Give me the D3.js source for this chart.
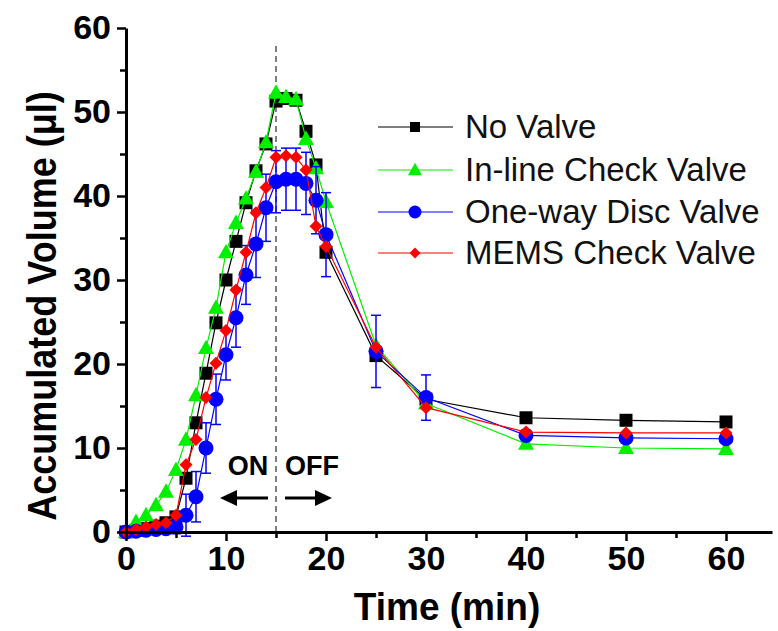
<!DOCTYPE html>
<html>
<head>
<meta charset="utf-8">
<script src="https://cdn.jsdelivr.net/npm/d3@7"></script>
<style>
  body { margin: 0; background: #fff; }
  svg { display: block; font-family: "Liberation Sans", Arial, sans-serif; }
</style>
</head>
<body>
<svg id="chart" width="778" height="631"></svg>
<script>
// Sampling times (min)
const times = [0, 1, 2, 3, 4, 5, 6, 7, 8, 9, 10, 11, 12, 13, 14, 15, 16, 17, 18, 19, 20, 25, 30, 40, 50, 60];

// Accumulated volume (µl) for each configuration
const noValve      = [0, 0.2, 0.4, 0.7, 1.1, 1.8, 6.4, 13.0, 18.9, 24.9, 30.0, 34.6, 39.2, 43.0, 46.2, 51.3, 51.6, 51.4, 47.7, 43.7, 33.3, 21.0, 15.8, 13.6, 13.3, 13.1];
const inlineCheck  = [0, 1.2, 2.0, 3.2, 4.8, 7.4, 11.0, 16.3, 21.9, 26.7, 33.3, 36.8, 39.7, 42.9, 46.4, 52.3, 51.8, 51.5, 46.8, 43.3, 39.3, 22.2, 15.3, 10.5, 10.0, 9.9];
const oneWayDisc   = [0, 0.1, 0.2, 0.3, 0.4, 0.6, 2.0, 4.2, 10.0, 15.8, 21.1, 25.5, 30.6, 34.3, 38.6, 41.7, 42.0, 42.0, 41.5, 39.5, 35.4, 21.5, 16.0, 11.5, 11.2, 11.1];
const memsCheck    = [0, 0.3, 0.6, 0.9, 1.1, 2.0, 8.0, 11.0, 16.0, 20.1, 24.0, 28.8, 33.3, 38.0, 41.0, 44.6, 44.8, 44.6, 43.1, 36.4, 34.0, 22.0, 14.8, 11.9, 11.8, 11.8];
// Standard deviation of the one-way disc valve runs
const oneWayDiscErr = [0.2, 0.2, 0.2, 0.2, 0.3, 0.8, 2.5, 3.0, 3.0, 3.0, 3.0, 3.5, 3.5, 4.0, 4.0, 3.7, 3.7, 3.7, 3.7, 4.0, 5.0, 4.3, 2.7, 0.6, 0.5, 0.5];

const seriesNames = ["No Valve", "In-line Check Valve", "One-way Disc Valve", "MEMS Check Valve"];
const xMajorTicks = [0, 10, 20, 30, 40, 50, 60];
const yMajorTicks = [0, 10, 20, 30, 40, 50, 60];
const pumpSwitchTime = 15;

const series = [
  { name: seriesNames[0], values: noValve,     color: "#000000", shape: "square" },
  { name: seriesNames[1], values: inlineCheck, color: "#00f000", shape: "triangle" },
  { name: seriesNames[2], values: oneWayDisc,  color: "#0000ff", shape: "circle", err: oneWayDiscErr },
  { name: seriesNames[3], values: memsCheck,   color: "#ff0000", shape: "diamond" }
];

const svg = d3.select("#chart");
const x = d3.scaleLinear().domain([0, 64.6]).range([126, 772]);
const y = d3.scaleLinear().domain([0, 60]).range([532, 28]);

function markerPath(shape, s) {
  if (shape === "square") return `M${-s/2},${-s/2}h${s}v${s}h${-s}Z`;
  if (shape === "triangle") { const h = s * 0.9; return `M0,${-h*0.58}L${s/2},${h*0.42}L${-s/2},${h*0.42}Z`; }
  if (shape === "diamond") return `M0,${-s/2}L${s/2},0L0,${s/2}L${-s/2},0Z`;
  const r = s / 2;
  return `M${r},0A${r},${r} 0 1,1 ${-r},0A${r},${r} 0 1,1 ${r},0Z`;
}
const plotSize = { square: 13, triangle: 16, circle: 15, diamond: 13 };
const legendSize = { square: 10, triangle: 14, circle: 13, diamond: 11 };

// ON / OFF switch marker
svg.append("line")
  .attr("x1", x(pumpSwitchTime)).attr("x2", x(pumpSwitchTime))
  .attr("y1", y(0)).attr("y2", 42)
  .attr("stroke", "#555").attr("stroke-width", 1.5).attr("stroke-dasharray", "6,4");

// Series
const line = d3.line().x((d, i) => x(times[i])).y(d => y(d));
series.forEach(s => {
  const g = svg.append("g");
  g.append("path").attr("d", line(s.values))
    .attr("fill", "none").attr("stroke", s.color).attr("stroke-width", 1.2);
  if (s.err) {
    const eb = g.append("g").attr("stroke", s.color).attr("stroke-width", 1.5);
    s.values.forEach((v, i) => {
      const e = s.err[i], cx = x(times[i]);
      eb.append("line").attr("x1", cx).attr("x2", cx).attr("y1", y(v - e)).attr("y2", y(v + e));
      eb.append("line").attr("x1", cx - 5).attr("x2", cx + 5).attr("y1", y(v - e)).attr("y2", y(v - e));
      eb.append("line").attr("x1", cx - 5).attr("x2", cx + 5).attr("y1", y(v + e)).attr("y2", y(v + e));
    });
  }
  g.selectAll("path.m").data(s.values).join("path").attr("class", "m")
    .attr("d", markerPath(s.shape, plotSize[s.shape]))
    .attr("transform", (d, i) => `translate(${x(times[i])},${y(d)})`)
    .attr("fill", s.color);
});

// Axes
const xMinor = d3.range(5, 60, 10);
const yMinor = d3.range(5, 60, 10);

svg.append("g").attr("transform", `translate(0,${y(0)})`)
  .call(d3.axisBottom(x).tickValues(xMajorTicks).tickSize(9).tickSizeOuter(0).tickPadding(5));
svg.append("g").attr("transform", `translate(0,${y(0)})`)
  .call(d3.axisBottom(x).tickValues(xMinor).tickSize(6).tickFormat(""))
  .call(g => g.select(".domain").remove());
svg.append("g").attr("transform", `translate(${x(0)},0)`)
  .call(d3.axisLeft(y).tickValues(yMajorTicks).tickSize(9).tickSizeOuter(0).tickPadding(6));
svg.append("g").attr("transform", `translate(${x(0)},0)`)
  .call(d3.axisLeft(y).tickValues(yMinor).tickSize(6).tickFormat(""))
  .call(g => g.select(".domain").remove());

svg.selectAll(".tick line").attr("stroke", "#000").attr("stroke-width", 2.5);
svg.selectAll(".domain").attr("stroke", "#000").attr("stroke-width", 3);
svg.selectAll(".tick text").attr("fill", "#000")
  .style("font-family", '"Liberation Sans", Arial, sans-serif')
  .style("font-size", "34px").style("font-weight", "bold");

// Axis titles
svg.append("text").attr("transform", "translate(447,620) scale(0.95,1)").attr("text-anchor", "middle")
  .style("font-size", "39px").style("font-weight", "bold").text("Time (min)");
svg.append("text").attr("transform", "translate(56,306) rotate(-90) scale(0.9,1)").attr("text-anchor", "middle")
  .style("font-size", "40px").style("font-weight", "bold").text("Accumulated Volume (\u03bcl)");

// ON / OFF labels with arrows
const arrowY = 498;
svg.append("text").attr("x", 248).attr("y", 475).attr("text-anchor", "middle")
  .style("font-size", "27px").style("font-weight", "bold").text("ON");
svg.append("text").attr("x", 312).attr("y", 475).attr("text-anchor", "middle")
  .style("font-size", "27px").style("font-weight", "bold").text("OFF");
function arrow(x0, x1) {
  const dir = Math.sign(x1 - x0), head = 17;
  svg.append("line").attr("x1", x0).attr("x2", x1 - dir * head + dir * 2).attr("y1", arrowY).attr("y2", arrowY)
    .attr("stroke", "#000").attr("stroke-width", 3);
  svg.append("path").attr("d", `M${x1},${arrowY}L${x1 - dir * head},${arrowY - 8}L${x1 - dir * head},${arrowY + 8}Z`)
    .attr("fill", "#000");
}
arrow(268, 220);
arrow(285, 332);

// Legend
const legendRows = [127, 170, 212, 253];
series.forEach((s, i) => {
  const ly = legendRows[i];
  svg.append("line").attr("x1", 378).attr("x2", 453).attr("y1", ly).attr("y2", ly)
    .attr("stroke", s.color).attr("stroke-width", 1.2);
  svg.append("path").attr("d", markerPath(s.shape, legendSize[s.shape]))
    .attr("transform", `translate(415,${ly})`).attr("fill", s.color);
  svg.append("text").attr("x", 465).attr("y", ly + 11)
    .style("font-size", "33px").attr("fill", "#111").text(s.name);
});
</script>
</body>
</html>
